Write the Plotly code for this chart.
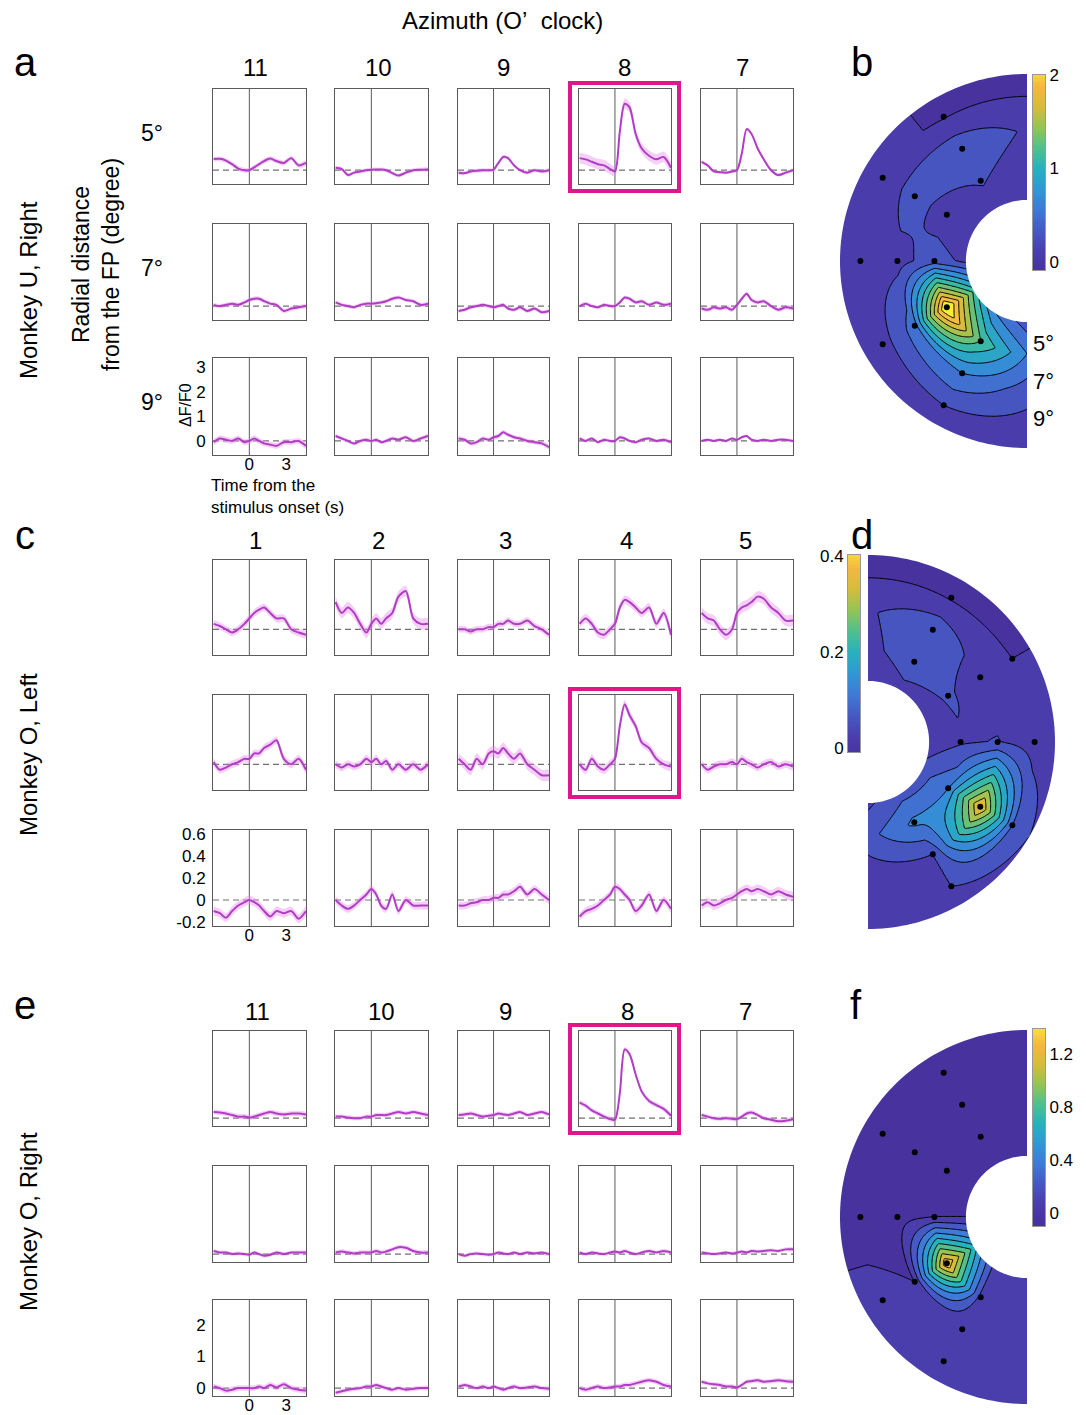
import numpy as np
import plotly.graph_objects as go

# ======================= DATA =======================
time_s = [-2.9, -2.4, -1.9, -1.4, -0.9, -0.4, 0.0, 0.4, 0.8, 1.2, 1.7, 2.2, 2.8, 3.4, 4.0, 4.6]

clock_U_right = ["11", "10", "9", "8", "7"]
clock_O_left = ["1", "2", "3", "4", "5"]
clock_O_right = ["11", "10", "9", "8", "7"]
ecc_labels = ["5°", "7°", "9°"]
ecc_deg = [5, 7, 9]

# Monkey U, Right  (columns: 11,10,9,8,7 o'clock)
U_right_5deg = [
    [0.46, 0.47, 0.40, 0.25, 0.07, 0.0, 0.0, 0.12, 0.25, 0.38, 0.48, 0.38, 0.30, 0.50, 0.20, 0.30],
    [0.10, 0.05, -0.20, -0.10, -0.05, 0.0, 0.02, 0.03, 0.03, 0.0, -0.12, -0.22, -0.10, 0.0, 0.02, 0.03],
    [-0.10, -0.12, -0.05, -0.02, 0.0, 0.0, 0.02, 0.30, 0.55, 0.50, 0.20, 0.0, -0.10, 0.0, -0.05, 0.0],
    [0.50, 0.45, 0.35, 0.25, 0.20, 0.05, -0.05, 1.60, 2.75, 2.60, 1.50, 0.90, 0.60, 0.45, 0.55, 0.10],
    [0.35, 0.20, -0.05, -0.08, -0.10, -0.05, 0.0, 0.70, 1.70, 1.50, 0.90, 0.45, 0.0, -0.20, -0.10, 0.0],
]
U_right_7deg = [
    [0.05, 0.0, 0.05, 0.10, 0.05, 0.15, 0.25, 0.30, 0.30, 0.20, 0.10, 0.05, -0.20, -0.10, -0.05, 0.0],
    [0.15, 0.05, 0.0, -0.05, 0.05, 0.10, 0.10, 0.12, 0.15, 0.20, 0.30, 0.35, 0.25, 0.20, 0.05, 0.10],
    [-0.20, -0.15, -0.05, 0.0, 0.05, 0.0, -0.05, 0.0, 0.05, -0.10, -0.15, -0.05, -0.20, -0.10, -0.25, -0.20],
    [0.0, 0.10, 0.0, -0.05, 0.05, 0.0, 0.0, 0.15, 0.35, 0.30, 0.15, 0.20, 0.05, 0.15, 0.05, 0.10],
    [-0.10, -0.15, -0.05, -0.10, -0.05, -0.15, 0.05, 0.30, 0.50, 0.25, 0.15, 0.20, 0.0, -0.15, -0.05, -0.10],
]
U_right_9deg = [
    [-0.05, 0.10, 0.05, 0.0, 0.10, -0.05, 0.0, 0.10, 0.0, -0.10, -0.15, -0.20, -0.05, -0.05, 0.0, -0.20],
    [0.20, 0.10, 0.0, -0.10, 0.0, 0.05, 0.0, 0.05, -0.05, 0.0, 0.10, 0.05, 0.15, 0.0, 0.10, 0.20],
    [0.10, 0.05, -0.10, -0.05, 0.10, 0.05, 0.15, 0.20, 0.35, 0.25, 0.15, 0.10, 0.0, -0.05, -0.10, -0.25],
    [0.10, 0.0, 0.10, -0.05, 0.05, 0.0, 0.0, 0.15, 0.10, 0.0, -0.05, 0.05, 0.10, 0.0, 0.05, -0.05],
    [0.0, 0.05, 0.0, 0.05, 0.0, 0.10, 0.05, 0.15, 0.20, 0.05, 0.0, 0.05, 0.0, 0.05, 0.05, 0.0],
]
U_right_sem = [[0.10, 0.08, 0.08, 0.22, 0.07],
               [0.09, 0.08, 0.08, 0.08, 0.09],
               [0.12, 0.08, 0.09, 0.07, 0.06]]

# Monkey O, Left  (columns: 1,2,3,4,5 o'clock)
O_left_5deg = [
    [0.05, 0.03, 0.0, -0.03, 0.0, 0.05, 0.10, 0.15, 0.18, 0.20, 0.15, 0.10, 0.10, 0.0, -0.03, -0.05],
    [0.25, 0.15, 0.20, 0.15, 0.05, -0.03, 0.05, 0.10, 0.05, 0.10, 0.15, 0.30, 0.35, 0.10, 0.05, 0.05],
    [0.0, 0.0, -0.02, 0.0, 0.0, 0.02, 0.02, 0.05, 0.05, 0.08, 0.05, 0.05, 0.08, 0.03, 0.0, -0.05],
    [0.05, 0.10, 0.05, -0.03, -0.05, 0.0, 0.05, 0.20, 0.27, 0.25, 0.20, 0.15, 0.20, 0.05, 0.15, -0.05],
    [0.15, 0.10, 0.08, 0.0, -0.05, 0.0, 0.15, 0.20, 0.22, 0.25, 0.30, 0.28, 0.20, 0.15, 0.08, 0.08],
]
O_left_7deg = [
    [0.02, -0.05, -0.03, 0.0, 0.02, 0.05, 0.05, 0.10, 0.10, 0.15, 0.18, 0.22, 0.05, 0.0, 0.05, -0.05],
    [0.0, -0.03, 0.0, -0.02, 0.0, 0.05, 0.02, 0.05, 0.0, 0.03, -0.05, 0.0, -0.05, 0.0, -0.05, 0.0],
    [0.05, 0.0, -0.05, 0.05, 0.0, 0.10, 0.12, 0.10, 0.15, 0.10, 0.05, 0.10, 0.0, -0.05, -0.10, -0.10],
    [0.0, -0.05, 0.05, -0.02, -0.05, 0.0, 0.05, 0.35, 0.55, 0.45, 0.35, 0.20, 0.15, 0.05, 0.0, -0.02],
    [0.0, -0.05, -0.02, 0.0, 0.0, 0.02, 0.0, 0.05, 0.02, 0.0, -0.03, 0.0, 0.02, -0.02, 0.0, -0.02],
]
O_left_9deg = [
    [-0.10, -0.12, -0.16, -0.10, -0.05, -0.02, 0.0, -0.02, -0.05, -0.10, -0.15, -0.10, -0.12, -0.10, -0.17, -0.10],
    [0.0, -0.05, -0.08, -0.05, 0.0, 0.05, 0.10, 0.05, -0.05, -0.08, 0.05, -0.10, 0.0, -0.05, -0.05, -0.05],
    [-0.05, -0.05, -0.03, -0.02, 0.0, 0.0, 0.02, 0.02, 0.05, 0.05, 0.08, 0.12, 0.05, 0.10, 0.05, 0.0],
    [-0.15, -0.10, -0.08, -0.05, 0.0, 0.05, 0.12, 0.10, 0.05, 0.0, -0.10, -0.05, 0.05, -0.10, 0.0, -0.08],
    [-0.05, -0.02, -0.05, -0.03, 0.0, 0.02, 0.05, 0.08, 0.10, 0.08, 0.10, 0.08, 0.05, 0.08, 0.05, 0.03],
]
O_left_sem = [[0.035, 0.05, 0.03, 0.04, 0.05],
              [0.035, 0.035, 0.05, 0.04, 0.035],
              [0.04, 0.035, 0.035, 0.035, 0.04]]

# Monkey O, Right  (columns: 11,10,9,8,7 o'clock)
O_right_5deg = [
    [0.20, 0.18, 0.15, 0.10, 0.05, 0.05, 0.02, 0.05, 0.10, 0.15, 0.20, 0.15, 0.12, 0.15, 0.15, 0.12],
    [0.05, 0.05, 0.02, 0.0, 0.0, 0.05, 0.05, 0.10, 0.10, 0.10, 0.15, 0.20, 0.15, 0.20, 0.15, 0.10],
    [0.10, 0.12, 0.15, 0.10, 0.05, 0.08, 0.10, 0.15, 0.12, 0.10, 0.15, 0.20, 0.10, 0.15, 0.20, 0.12],
    [0.50, 0.40, 0.25, 0.15, 0.05, -0.03, -0.05, 0.80, 2.20, 2.05, 1.40, 0.85, 0.55, 0.42, 0.30, 0.08],
    [0.10, 0.05, 0.0, -0.02, 0.0, -0.02, -0.03, 0.05, 0.15, 0.18, 0.10, 0.0, -0.05, -0.10, -0.08, -0.03],
]
O_right_7deg = [
    [0.10, 0.05, 0.05, 0.0, 0.02, 0.0, -0.02, 0.05, 0.0, -0.05, -0.02, 0.05, 0.0, 0.05, 0.05, 0.05],
    [0.05, 0.08, 0.05, 0.02, 0.05, 0.05, 0.05, 0.10, 0.05, 0.08, 0.15, 0.22, 0.20, 0.10, 0.05, 0.05],
    [0.0, -0.05, 0.0, 0.02, 0.0, -0.02, 0.0, 0.05, 0.02, 0.0, 0.05, 0.0, 0.05, 0.02, 0.05, 0.0],
    [0.05, 0.0, 0.05, 0.02, 0.0, 0.05, 0.08, 0.05, 0.10, 0.05, 0.0, 0.05, 0.10, 0.05, 0.10, 0.05],
    [0.05, 0.02, 0.0, 0.02, 0.05, 0.02, 0.05, 0.08, 0.05, 0.10, 0.08, 0.10, 0.12, 0.10, 0.15, 0.15],
]
O_right_9deg = [
    [0.05, 0.0, -0.08, -0.05, 0.0, 0.0, 0.0, 0.0, 0.05, 0.0, 0.10, 0.02, 0.12, 0.0, -0.05, -0.08],
    [-0.15, -0.10, -0.05, -0.02, 0.0, 0.05, 0.05, 0.10, 0.05, 0.0, -0.05, 0.0, -0.05, -0.02, 0.0, 0.0],
    [0.05, 0.10, 0.05, 0.0, 0.05, 0.0, 0.05, 0.0, -0.05, 0.0, 0.05, 0.0, 0.02, 0.05, 0.0, -0.02],
    [0.0, -0.05, 0.0, 0.05, 0.0, 0.02, 0.05, 0.05, 0.10, 0.10, 0.15, 0.20, 0.25, 0.20, 0.10, 0.05],
    [0.20, 0.15, 0.12, 0.10, 0.05, 0.05, 0.02, 0.10, 0.20, 0.22, 0.25, 0.20, 0.22, 0.25, 0.22, 0.20],
]
O_right_sem = [[0.08, 0.07, 0.07, 0.08, 0.07],
               [0.06, 0.07, 0.06, 0.06, 0.06],
               [0.09, 0.07, 0.07, 0.08, 0.07]]

# Response maps (rows: 5°, 7°, 9°; columns follow the clock lists)
map_U_right = [[0.22, 0.10, 0.30, 2.30, 1.20],
               [0.35, 0.30, 0.12, 0.50, 0.60],
               [-0.02, 0.05, 0.02, 0.10, 0.20]]
map_O_left = [[0.06, 0.045, 0.035, 0.12, 0.13],
              [0.07, 0.02, 0.042, 0.37, 0.04],
              [-0.005, 0.0, 0.02, 0.08, 0.04]]
map_O_right = [[-0.05, -0.05, 0.0, 1.35, 0.10],
               [-0.05, -0.05, -0.05, 0.0, 0.05],
               [-0.05, -0.05, -0.05, 0.04, 0.04]]

# ======================= STYLE / LAYOUT =======================
W, H = 1086, 1415
FONT = "Liberation Sans, Arial, sans-serif"
LINE_C = "rgb(176,62,196)"
BAND_C = "rgba(230,135,236,0.40)"
FRAME_C = "#5a5a5a"
BOX_C = "#e0168a"
EDGE_DECAY = 0.5   # map values fade toward the annulus edges

PARULA = [
    [0.0, "rgb(72,50,158)"], [0.1, "rgb(74,62,172)"], [0.2, "rgb(70,90,196)"],
    [0.3, "rgb(62,122,214)"], [0.4, "rgb(48,152,212)"], [0.5, "rgb(40,178,188)"],
    [0.6, "rgb(80,192,140)"], [0.7, "rgb(150,196,84)"], [0.8, "rgb(214,188,60)"],
    [0.9, "rgb(244,184,66)"], [1.0, "rgb(246,238,48)"],
]


def fx(p):
    return p / W


def fy(p):
    return 1 - p / H


def axn(i):
    s = "" if i == 1 else str(i)
    return "x" + s, "y" + s, "xaxis" + s, "yaxis" + s


col_px = [(213, 306), (335, 428), (458, 549), (579, 671), (701, 793)]
XR = [-2.95, 4.6]

groups = [
    dict(rows=[U_right_5deg, U_right_7deg, U_right_9deg], sem=U_right_sem,
         row_px=[(89, 184), (224, 320), (358, 455)], yr=[-0.57, 3.36],
         yt=[0, 1, 2, 3], ytt=["0", "1", "2", "3"], box=(0, 3)),
    dict(rows=[O_left_5deg, O_left_7deg, O_left_9deg], sem=O_left_sem,
         row_px=[(560, 655), (695, 790), (830, 926)], yr=[-0.236, 0.636],
         yt=[-0.2, 0, 0.2, 0.4, 0.6], ytt=["-0.2", "0", "0.2", "0.4", "0.6"], box=(1, 3)),
    dict(rows=[O_right_5deg, O_right_7deg, O_right_9deg], sem=O_right_sem,
         row_px=[(1031, 1126), (1166, 1262), (1300, 1396)], yr=[-0.25, 2.79],
         yt=[0, 1, 2], ytt=["0", "1", "2"], box=(0, 3)),
]

fig = go.Figure()
layout = dict(width=W, height=H, margin=dict(l=0, r=0, t=0, b=0, pad=0, autoexpand=False),
              autosize=False, paper_bgcolor="white", plot_bgcolor="white", showlegend=False,
              font=dict(family=FONT, color="black", size=17))
shapes = []
annotations = []

ax = 0
for g in groups:
    for ri in range(3):
        y0, y1 = g["row_px"][ri]
        for ci in range(5):
            ax += 1
            x0, x1 = col_px[ci]
            xa, ya, xk, yk = axn(ax)
            m = np.array(g["rows"][ri][ci])
            s = g["sem"][ri][ci]
            up, lo = m + s, m - s
            fig.add_trace(go.Scatter(x=time_s + time_s[::-1], y=list(up) + list(lo[::-1]),
                                     fill="toself", fillcolor=BAND_C,
                                     line=dict(width=0, shape="spline", smoothing=0.8),
                                     mode="lines", hoverinfo="skip", xaxis=xa, yaxis=ya))
            fig.add_trace(go.Scatter(x=time_s, y=list(m), mode="lines",
                                     line=dict(color=LINE_C, width=2, shape="spline", smoothing=0.8),
                                     xaxis=xa, yaxis=ya))
            label_panel = (ri == 2 and ci == 0)
            layout[xk] = dict(domain=[fx(x0), fx(x1)], range=XR, anchor=ya, automargin=False,
                              showline=True, mirror=True, linecolor=FRAME_C, linewidth=1,
                              showgrid=False, zeroline=False,
                              showticklabels=label_panel, tickvals=[0, 3], ticks="",
                              ticklabelstandoff=-6, tickfont=dict(size=17))
            layout[yk] = dict(domain=[fy(y1), fy(y0)], range=g["yr"], anchor=xa, automargin=False,
                              showline=True, mirror=True, linecolor=FRAME_C, linewidth=1,
                              showgrid=False, zeroline=False,
                              showticklabels=label_panel, tickvals=g["yt"], ticktext=g["ytt"],
                              ticks="outside" if label_panel else "", ticklen=3,
                              tickcolor="rgba(0,0,0,0)", tickfont=dict(size=17))
            shapes.append(dict(type="line", xref=xa, yref=f"{ya} domain", x0=0, x1=0, y0=0, y1=1,
                               line=dict(color=FRAME_C, width=1), layer="below"))
            shapes.append(dict(type="line", xref=f"{xa} domain", yref=ya, x0=0, x1=1, y0=0, y1=0,
                               line=dict(color="#707070", width=1.2, dash="6px,4px"), layer="below"))
            if (ri, ci) == g["box"]:
                shapes.append(dict(type="rect", xref="paper", yref="paper",
                                   x0=fx(x0 - 9), x1=fx(x1 + 8), y0=fy(y1 + 7), y1=fy(y0 - 6),
                                   line=dict(color=BOX_C, width=4)))

# ---------------- polar response maps ----------------
R_OUT, R_IN = 10.1, 3.3


def clock_angle(lbl, right):
    a = 90 - 30 * int(lbl)
    return a if right else a % 360


def polar_field(vals, angles, X, Y, right):
    th = np.degrees(np.arctan2(Y, X))
    if not right:
        th = np.where(th < 0, th + 360, th)
    v = np.array(vals, dtype=float)
    a = np.array(angles, dtype=float)
    order = np.argsort(a)
    a, v = a[order], v[:, order]
    # pad the sampled grid toward the edges of the half annulus
    a_ext = np.concatenate([[a[0] - 30], a, [a[-1] + 30]])
    v = np.column_stack([v[:, 0] * EDGE_DECAY, v, v[:, -1] * EDGE_DECAY])
    v = np.vstack([v[0] * EDGE_DECAY, v, v[-1] * EDGE_DECAY])
    r_ext = np.array([R_IN] + ecc_deg + [R_OUT], dtype=float)
    rows = np.array([np.interp(th, a_ext, v[k]) for k in range(len(r_ext))])
    r = np.clip(np.hypot(X, Y), r_ext[0], r_ext[-1])
    idx = np.clip(np.searchsorted(r_ext, r) - 1, 0, len(r_ext) - 2)
    r0, r1 = r_ext[idx], r_ext[idx + 1]
    w = (r - r0) / (r1 - r0)
    lo = np.take_along_axis(rows, idx[None], 0)[0]
    hi = np.take_along_axis(rows, (idx + 1)[None], 0)[0]
    return lo + (hi - lo) * w


maps = [
    dict(vals=map_U_right, clocks=clock_U_right, right=False, xpx=(840, 1027), ypx=(74, 448),
         lev=(0.0, 2.0, 0.2), cb_x=(1033, 1045), cb_y=(75, 270), cb_r=[-0.085, 2.0],
         cb_t=[0, 1, 2], cb_tt=["0", "1", "2"], cb_side="right"),
    dict(vals=map_O_left, clocks=clock_O_left, right=True, xpx=(868, 1055), ypx=(555, 929),
         lev=(0.0, 0.4, 0.04), cb_x=(848, 860), cb_y=(555, 752), cb_r=[-0.008, 0.402],
         cb_t=[0, 0.2, 0.4], cb_tt=["0", "0.2", "0.4"], cb_side="left"),
    dict(vals=map_O_right, clocks=clock_O_right, right=False, xpx=(840, 1027), ypx=(1030, 1404),
         lev=(0.0, 1.35, 0.15), cb_x=(1033, 1045), cb_y=(1029, 1226), cb_r=[-0.1, 1.39],
         cb_t=[0, 0.4, 0.8, 1.2], cb_tt=["0", "0.4", "0.8", "1.2"], cb_side="right"),
]

for k, mp in enumerate(maps):
    ax += 1
    xa, ya, xk, yk = axn(ax)
    xr = [0, R_OUT] if mp["right"] else [-R_OUT, 0]
    xs = np.linspace(xr[0], xr[1], 160)
    ys = np.linspace(-R_OUT, R_OUT, 320)
    X, Y = np.meshgrid(xs, ys)
    angles = [clock_angle(c, mp["right"]) for c in mp["clocks"]]
    Z = polar_field(mp["vals"], angles, X, Y, mp["right"])
    st, en, sz = mp["lev"]
    fig.add_trace(go.Contour(x=xs, y=ys, z=Z, xaxis=xa, yaxis=ya, colorscale=PARULA,
                             contours=dict(start=st, end=en, size=sz, coloring="fill"),
                             line=dict(color="black", width=1), showscale=False, hoverinfo="skip"))
    px_, py_ = [], []
    for ri, e in enumerate(ecc_deg):
        for ci, a in enumerate(angles):
            px_.append(e * np.cos(np.radians(a)))
            py_.append(e * np.sin(np.radians(a)))
    fig.add_trace(go.Scatter(x=px_, y=py_, mode="markers", marker=dict(color="black", size=6),
                             xaxis=xa, yaxis=ya))
    layout[xk] = dict(domain=[fx(mp["xpx"][0]), fx(mp["xpx"][1])], range=xr, anchor=ya,
                      visible=False, automargin=False)
    layout[yk] = dict(domain=[fy(mp["ypx"][1]), fy(mp["ypx"][0])], range=[-R_OUT, R_OUT],
                      anchor=xa, visible=False, automargin=False)
    # white mask outside the half annulus
    if mp["right"]:
        arc = np.radians(np.linspace(90, -90, 121))
        rect = (f"M -0.2,{-R_OUT-0.2} L {R_OUT+0.2},{-R_OUT-0.2} L {R_OUT+0.2},{R_OUT+0.2} "
                f"L -0.2,{R_OUT+0.2} Z")
    else:
        arc = np.radians(np.linspace(90, 270, 121))
        rect = (f"M {-R_OUT-0.2},{-R_OUT-0.2} L 0.2,{-R_OUT-0.2} L 0.2,{R_OUT+0.2} "
                f"L {-R_OUT-0.2},{R_OUT+0.2} Z")
    pts = [(R_OUT * np.cos(a), R_OUT * np.sin(a)) for a in arc] + \
          [(R_IN * np.cos(a), R_IN * np.sin(a)) for a in arc[::-1]]
    ann_path = "M " + " L ".join(f"{x:.4f},{y:.4f}" for x, y in pts) + " Z"
    shapes.append(dict(type="path", xref=xa, yref=ya, path=rect + " " + ann_path,
                       fillcolor="white", fillrule="evenodd", line=dict(width=0), layer="above"))

    # colour bar as its own heatmap axis
    ax += 1
    xa2, ya2, xk2, yk2 = axn(ax)
    zlo, zhi = st - sz / 2, en + sz / 2
    ygrad = np.linspace(mp["cb_r"][0], mp["cb_r"][1], 150)
    fig.add_trace(go.Heatmap(x=[0], y=ygrad, z=[[v] for v in ygrad], colorscale=PARULA,
                             zmin=zlo, zmax=zhi, showscale=False, xaxis=xa2, yaxis=ya2, hoverinfo="skip"))
    layout[xk2] = dict(domain=[fx(mp["cb_x"][0]), fx(mp["cb_x"][1])], range=[-0.5, 0.5],
                       anchor=ya2, showline=True, mirror=True, linecolor="#999", linewidth=1,
                       showticklabels=False, showgrid=False, zeroline=False, ticks="", automargin=False)
    layout[yk2] = dict(domain=[fy(mp["cb_y"][1]), fy(mp["cb_y"][0])], range=mp["cb_r"],
                       anchor=xa2, side=mp["cb_side"], showline=True, mirror=True,
                       linecolor="#999", linewidth=1, showgrid=False, zeroline=False,
                       tickvals=mp["cb_t"], ticktext=mp["cb_tt"], ticks="",
                       tickfont=dict(size=17), automargin=False)


# ---------------- text ----------------
def txt(s, x, y, size, angle=0, xanchor="center", align="center"):
    annotations.append(dict(text=s, x=fx(x), y=fy(y), xref="paper", yref="paper", showarrow=False,
                            font=dict(size=size, family=FONT, color="black"), textangle=angle,
                            xanchor=xanchor, yanchor="middle", align=align))


txt("Azimuth (O\u2019\u00a0 clock)", 502, 21, 24)
for lbls, yy, xs_ in [(clock_U_right, 68, [255, 378, 503, 624, 742]),
                      (clock_O_left, 540, [255, 378, 505, 626, 745]),
                      (clock_O_right, 1011, [257, 381, 505, 627, 745])]:
    for lb, xx in zip(lbls, xs_):
        txt(lb, xx, yy, 24)
for lb, yy in zip(ecc_labels, [133, 268, 402]):
    txt(lb, 152, yy, 23)
for lb, xx, yy in [("a", 25, 62), ("b", 862, 62), ("c", 25, 535), ("d", 862, 535),
                   ("e", 25, 1005), ("f", 856, 1005)]:
    txt(lb, xx, yy, 40)
txt("Monkey U, Right", 28, 290, 24, -90)
txt("Monkey O, Left", 28, 755, 24, -90)
txt("Monkey O, Right", 28, 1222, 24, -90)
txt("Radial distance<br>from the FP (degree)", 96, 265, 23, -90)
txt("\u0394F/F0", 185, 405, 16, -90)
txt("Time from the<br>stimulus onset (s)", 209, 497, 17, 0, xanchor="left", align="left")
for lb, yy in zip(ecc_labels, [343, 381, 419]):
    txt(lb, 1043, yy, 22)

layout["shapes"] = shapes
layout["annotations"] = annotations
fig.update_layout(**layout)
fig.write_html("out.html", config={"displayModeBar": False},
               post_script="document.body.style.margin='0px';")
